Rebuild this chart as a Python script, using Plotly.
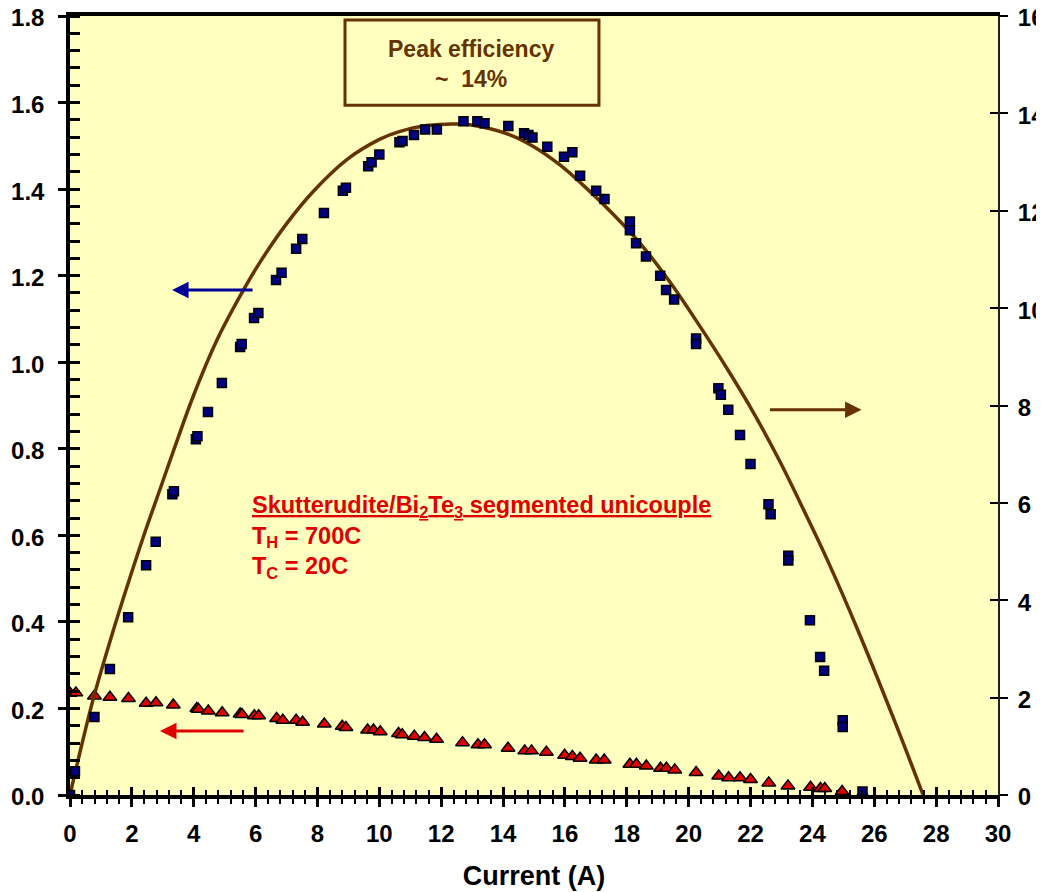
import plotly.graph_objects as go

# ---------------- data ----------------
# Blue squares: power output (left axis) vs current
power_current = [0.0, 0.16, 0.79, 1.29, 1.88, 2.46, 2.77, 3.31, 3.36, 4.07, 4.12, 4.46, 4.91,
                 5.50, 5.55, 5.95, 6.09, 6.66, 6.84, 7.31, 7.51, 8.21, 8.82, 8.92, 9.64, 9.75,
                 10.0, 10.65, 10.75, 11.12, 11.48, 11.86, 12.72, 13.17, 13.40, 14.17, 14.68,
                 14.82, 14.95, 15.43, 15.97, 16.24, 16.49, 17.01, 17.28, 18.10, 18.10, 18.30,
                 18.62, 19.08, 19.27, 19.53, 20.24, 20.24, 20.96, 21.04, 21.28, 21.66, 22.00,
                 22.58, 22.65, 23.22, 23.22, 23.92, 24.25, 24.38, 24.98, 24.98, 25.62]
power_value = [0.0, 0.055, 0.18, 0.291, 0.411, 0.531, 0.585, 0.695, 0.702, 0.822, 0.829, 0.885, 0.952,
               1.035, 1.042, 1.102, 1.114, 1.19, 1.207, 1.262, 1.285, 1.345, 1.396, 1.403, 1.453, 1.462,
               1.48, 1.508, 1.511, 1.525, 1.538, 1.538, 1.557, 1.557, 1.552, 1.546, 1.529,
               1.525, 1.519, 1.498, 1.475, 1.485, 1.431, 1.396, 1.377, 1.325, 1.305, 1.275,
               1.244, 1.2, 1.167, 1.145, 1.055, 1.042, 0.94, 0.925, 0.89, 0.832, 0.765,
               0.672, 0.649, 0.553, 0.542, 0.404, 0.319, 0.287, 0.173, 0.157, 0.008]

# Red triangles: voltage (left axis) vs current
volt_current = [0.0, 0.19, 0.79, 1.29, 1.89, 2.46, 2.78, 3.34, 4.10, 4.15, 4.47, 4.92, 5.50, 5.56,
                5.96, 6.10, 6.68, 6.88, 7.31, 7.52, 8.22, 8.80, 8.92, 9.62, 9.81, 10.03, 10.62,
                10.74, 11.13, 11.46, 11.85, 12.69, 13.19, 13.40, 14.16, 14.70, 14.92, 15.40,
                15.99, 16.24, 16.49, 17.01, 17.27, 18.10, 18.31, 18.63, 19.09, 19.28, 19.55,
                20.24, 20.97, 21.29, 21.66, 22.00, 22.59, 23.21, 23.94, 24.26, 24.40, 24.96, 25.62]
volt_value = [0.235, 0.236, 0.229, 0.226, 0.223, 0.212, 0.213, 0.208, 0.2, 0.198, 0.194, 0.19, 0.187, 0.186,
              0.183, 0.183, 0.177, 0.173, 0.173, 0.168, 0.164, 0.159, 0.156, 0.15, 0.15, 0.146, 0.142,
              0.139, 0.136, 0.133, 0.129, 0.121, 0.116, 0.116, 0.108, 0.102, 0.102, 0.099,
              0.092, 0.089, 0.085, 0.081, 0.081, 0.071, 0.071, 0.067, 0.062, 0.062, 0.058,
              0.052, 0.044, 0.04, 0.04, 0.036, 0.028, 0.021, 0.018, 0.015, 0.015, 0.008, 0.002]

# Brown curve: efficiency % (right axis) vs current
eff_current = [0.0, 0.27, 0.75, 1.29, 1.83, 2.37, 2.91, 3.39, 3.99, 4.74, 5.50, 6.14, 7.01, 7.87,
               8.95, 10.02, 10.67, 11.53, 12.61, 13.25, 14.22, 14.98, 15.84, 16.70, 17.56,
               18.43, 19.40, 20.37, 21.23, 22.09, 22.95, 23.82, 24.46, 25.46, 26.70, 27.58]
eff_value = [0.0, 0.74, 1.97, 3.15, 4.25, 5.3, 6.28, 7.15, 8.2, 9.33, 10.25, 10.94, 11.74, 12.40,
             13.05, 13.47, 13.63, 13.75, 13.78, 13.73, 13.56, 13.32, 12.94, 12.46, 11.93,
             11.33, 10.53, 9.62, 8.77, 7.86, 6.85, 5.72, 4.86, 3.40, 1.45, 0.0]

x_ticks = list(range(0, 31, 2))
left_ticks = [0.0, 0.2, 0.4, 0.6, 0.8, 1.0, 1.2, 1.4, 1.6, 1.8]
right_ticks = list(range(0, 17, 2))

# ---------------- styles ----------------
FONT = "Liberation Sans, Arial, sans-serif"
BROWN = "#663300"
RED = "#E00000"
NAVY = "#000080"
PLOT_BG = "#FFFFC0"

fig = go.Figure()

fig.add_trace(go.Scatter(
    x=volt_current, y=volt_value, mode="markers", xaxis="x", yaxis="y",
    marker=dict(symbol="triangle-up", size=12, color=RED, line=dict(color="black", width=1.5)),
    showlegend=False, hoverinfo="x+y"))

fig.add_trace(go.Scatter(
    x=eff_current, y=eff_value, mode="lines", xaxis="x", yaxis="y2",
    line=dict(color=BROWN, width=3.5, shape="spline", smoothing=1.0),
    showlegend=False, hoverinfo="x+y"))

fig.add_trace(go.Scatter(
    x=power_current, y=power_value, mode="markers", xaxis="x", yaxis="y3",
    marker=dict(symbol="square", size=9, color=NAVY, line=dict(color="black", width=1.5)),
    showlegend=False, hoverinfo="x+y"))

# dummy traces so the tick-overlay axes are drawn
fig.add_trace(go.Scatter(x=[None], y=[None], xaxis="x2", yaxis="y", showlegend=False, hoverinfo="skip"))
fig.add_trace(go.Scatter(x=[None], y=[None], xaxis="x", yaxis="y4", showlegend=False, hoverinfo="skip"))

tickfont = dict(family=FONT, size=24, color="black", weight="bold")

# the page body has an 8px margin, so the figure is 8px smaller than the window
fig.update_layout(
    width=1036, height=884,
    margin=dict(l=62, r=46, t=8, b=97, autoexpand=False),
    paper_bgcolor="white",
    plot_bgcolor=PLOT_BG,
    showlegend=False,
    xaxis=dict(
        range=[0, 30], tickvals=x_ticks, showgrid=False, zeroline=False, automargin=False,
        ticks="outside", ticklen=8, tickwidth=3, tickcolor="black",
        showline=True, linewidth=3.5, linecolor="black", mirror=True,
        minor=dict(dtick=0.4, tick0=0, ticks="outside", ticklen=5, tickwidth=2, tickcolor="black"),
        tickfont=tickfont, ticklabelstandoff=6, ticklabeloverflow="allow",
        title=dict(text="<b>Current (A)</b>", font=dict(family=FONT, size=27, color="black"), standoff=22),
    ),
    xaxis2=dict(
        range=[0, 30], overlaying="x", anchor="y", side="bottom", tickvals=x_ticks, automargin=False,
        showgrid=False, zeroline=False, showline=False, showticklabels=False,
        ticks="inside", ticklen=8, tickwidth=3, tickcolor="black",
        minor=dict(dtick=0.4, tick0=0, ticks="inside", ticklen=5, tickwidth=2, tickcolor="black"),
    ),
    yaxis=dict(
        range=[0, 1.8], tickvals=left_ticks, tickformat=".1f", showgrid=False, zeroline=False,
        automargin=False,
        ticks="outside", ticklen=8, tickwidth=3, tickcolor="black",
        showline=True, linewidth=3.5, linecolor="black",
        minor=dict(dtick=0.04, tick0=0, ticks="inside", ticklen=10, tickwidth=2.5, tickcolor="black"),
        tickfont=tickfont, ticklabelstandoff=9, ticklabeloverflow="allow", ticklabelshift=2,
    ),
    yaxis2=dict(
        range=[0, 16], tickvals=right_ticks, overlaying="y", side="right", anchor="x",
        showgrid=False, zeroline=False, automargin=False,
        ticks="outside", ticklen=8, tickwidth=1.5, tickcolor="black",
        showline=True, linewidth=2, linecolor="#222222",
        tickfont=tickfont, ticklabelstandoff=5, ticklabeloverflow="allow", ticklabelshift=2,
    ),
    yaxis3=dict(
        range=[0, 1.8], tickvals=left_ticks, overlaying="y", side="left", anchor="x",
        showgrid=False, zeroline=False, showline=False, showticklabels=False, automargin=False,
        ticks="inside", ticklen=10, tickwidth=3, tickcolor="black",
    ),
    yaxis4=dict(
        range=[0, 16], tickvals=right_ticks, overlaying="y", side="right", anchor="x",
        showgrid=False, zeroline=False, showline=False, showticklabels=False, automargin=False,
        ticks="inside", ticklen=8, tickwidth=1.5, tickcolor="black",
    ),
)

# "Peak efficiency" box
fig.add_shape(type="rect", xref="x", yref="y", x0=8.89, x1=17.1, y0=1.594, y1=1.791,
              fillcolor=PLOT_BG, line=dict(color=BROWN, width=3), layer="above")
fig.add_annotation(x=12.95, y=1.689, xref="x", yref="y", showarrow=False,
                   text="<b>Peak efficiency</b><br><b>~  14%</b>",
                   font=dict(family=FONT, size=23, color=BROWN), align="center")

# description text
fig.add_annotation(x=5.82, y=0.705, xref="x", yref="y", showarrow=False,
                   xanchor="left", yanchor="top", align="left",
                   text=("<b><u>Skutterudite/Bi<sub>2</sub>Te<sub>3</sub> segmented unicouple</u></b><br>"
                         "<b>T<sub>H</sub> = 700C</b><br><b>T<sub>C</sub> = 20C</b>"),
                   font=dict(family=FONT, size=23.5, color=RED))

# axis-pointing arrows
arrow_common = dict(xref="x", yref="y", axref="x", ayref="y", text="", showarrow=True,
                    arrowhead=2, arrowsize=1.1, arrowwidth=3)
fig.add_annotation(x=3.3, y=1.167, ax=5.95, ay=1.167, arrowcolor="#000099", **arrow_common)
fig.add_annotation(x=2.91, y=0.148, ax=5.66, ay=0.148, arrowcolor=RED, **arrow_common)
fig.add_annotation(x=25.59, y=0.89, ax=22.58, ay=0.89, arrowcolor=BROWN, **arrow_common)

fig.write_html("out.html")
